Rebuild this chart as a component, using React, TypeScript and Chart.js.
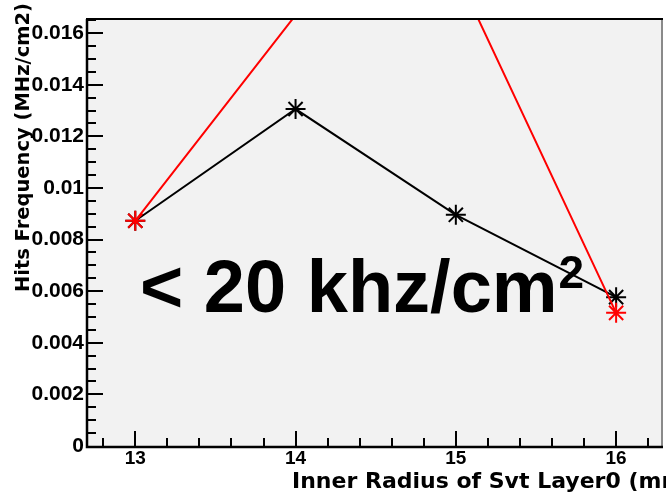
import React, { useEffect, useRef } from "react";
import { Chart, registerables } from "chart.js";

Chart.register(...registerables);

// ---- data ----
const radii = [13, 14, 15, 16];
const hitsBlack = [0.00873, 0.01306, 0.00896, 0.00577];
const hitsRed = [0.00873, 0.0167, 0.0184, 0.00516];

const xTickValues = [13, 14, 15, 16];
const yTickValues = [0, 0.002, 0.004, 0.006, 0.008, 0.01, 0.012, 0.014, 0.016];

const xTitle = "Inner Radius of Svt Layer0 (mm)";
const yTitle = "Hits Frequency (MHz/cm2)";
const noteMain = "< 20 khz/cm";
const noteSup = "2";

// ---- axis ranges / style constants ----
const X_MIN = 12.705;
const X_MAX = 16.28;
const Y_MIN = 0;
const Y_MAX = 0.01655;
const X_MINOR = 0.2;
const Y_MINOR = 0.0005;
const NOTE_X = 13.03;
const NOTE_Y = 0.0052;

const HELV = "'Liberation Sans', Arial, sans-serif";
const DEJA = "'DejaVu Sans', sans-serif";

const rootPlugin = {
  id: "rootFrame",
  beforeDraw(chart: any) {
    const { ctx, chartArea: a } = chart;
    ctx.save();
    ctx.fillStyle = "#ffffff";
    ctx.fillRect(0, 0, chart.width, chart.height);
    ctx.fillStyle = "#f2f2f2";
    ctx.fillRect(a.left, a.top, a.right - a.left, a.bottom - a.top);
    ctx.restore();
  },
  afterDatasetsDraw(chart: any) {
    const { ctx } = chart;
    const xs = chart.scales.x;
    const ys = chart.scales.y;
    ctx.save();
    ctx.fillStyle = "#000";
    ctx.textBaseline = "alphabetic";
    ctx.textAlign = "left";
    ctx.font = `bold 74px ${HELV}`;
    const px = xs.getPixelForValue(NOTE_X);
    const py = ys.getPixelForValue(NOTE_Y);
    ctx.fillText(noteMain, px, py);
    const w = ctx.measureText(noteMain).width;
    ctx.font = `bold 46px ${HELV}`;
    ctx.fillText(noteSup, px + w + 1, py - 24);
    ctx.restore();
  },
  afterDraw(chart: any) {
    const { ctx, chartArea: a } = chart;
    const xs = chart.scales.x;
    const ys = chart.scales.y;
    ctx.save();
    // ticks
    ctx.strokeStyle = "#000";
    ctx.lineWidth = 2;
    ctx.beginPath();
    const nx = Math.round((X_MAX - 12.6) / X_MINOR) + 2;
    for (let i = 0; i < nx; i++) {
      const v = 12.6 + i * X_MINOR;
      if (v < X_MIN || v > X_MAX) continue;
      const isMajor = Math.abs(v - Math.round(v)) < 1e-6;
      const p = Math.round(xs.getPixelForValue(v));
      ctx.moveTo(p, a.bottom);
      ctx.lineTo(p, a.bottom - (isMajor ? 15 : 8));
    }
    const ny = Math.round((Y_MAX - Y_MIN) / Y_MINOR) + 1;
    for (let i = 1; i < ny; i++) {
      const v = Y_MIN + i * Y_MINOR;
      if (v > Y_MAX) continue;
      const isMajor = i % 4 === 0;
      const p = Math.round(ys.getPixelForValue(v));
      ctx.moveTo(a.left, p);
      ctx.lineTo(a.left + (isMajor ? 15 : 8), p);
    }
    ctx.stroke();
    // frame
    ctx.strokeStyle = "#8a8a8a";
    ctx.lineWidth = 2;
    ctx.beginPath();
    ctx.moveTo(a.right + 1, a.top);
    ctx.lineTo(a.right + 1, a.bottom);
    ctx.stroke();
    ctx.strokeStyle = "#000";
    ctx.lineWidth = 2.5;
    ctx.beginPath();
    ctx.moveTo(a.left - 1, a.top);
    ctx.lineTo(a.left - 1, a.bottom + 1);
    ctx.lineTo(a.right + 2, a.bottom + 1);
    ctx.stroke();
    ctx.lineWidth = 2;
    ctx.beginPath();
    ctx.moveTo(a.left - 2, a.top);
    ctx.lineTo(a.right + 2, a.top);
    ctx.stroke();
    // axis titles
    ctx.fillStyle = "#000";
    ctx.font = `bold 22px ${DEJA}`;
    ctx.textAlign = "left";
    ctx.textBaseline = "alphabetic";
    ctx.fillText(xTitle, 292, 488);
    ctx.save();
    ctx.translate(29, 3);
    ctx.rotate(-Math.PI / 2);
    ctx.textAlign = "right";
    ctx.font = `bold 19.5px ${DEJA}`;
    ctx.fillText(yTitle, 0, 0);
    ctx.restore();
    ctx.restore();
  },
};

const radiusInRange = (c: any) => {
  const v = c.raw && typeof c.raw.y === "number" ? c.raw.y : 0;
  return v > Y_MAX || v < Y_MIN ? 0 : 10;
};

export default function App() {
  const ref = useRef<HTMLCanvasElement | null>(null);
  useEffect(() => {
    if (!ref.current) return;
    const chart = new Chart(ref.current, {
      type: "line",
      data: {
        datasets: [
          {
            label: "red",
            data: radii.map((x, i) => ({ x, y: hitsRed[i] })),
            borderColor: "#ff0000",
            borderWidth: 2,
            pointStyle: "star",
            pointRadius: radiusInRange,
            pointBorderColor: "#ff0000",
            pointBorderWidth: 2,
            pointBackgroundColor: "#ff0000",
            tension: 0,
            fill: false,
            clip: 0,
          },
          {
            label: "black",
            data: radii.map((x, i) => ({ x, y: hitsBlack[i] })),
            borderColor: "#000000",
            borderWidth: 2,
            pointStyle: "star",
            pointRadius: radiusInRange,
            pointBorderColor: "#000000",
            pointBorderWidth: 2,
            pointBackgroundColor: "#000000",
            tension: 0,
            fill: false,
            clip: 0,
          },
        ],
      },
      options: {
        responsive: false,
        animation: false,
        devicePixelRatio: 1,
        layout: { autoPadding: false, padding: { top: 19, right: 5, left: 0, bottom: 0 } },
        plugins: { legend: { display: false }, tooltip: { enabled: false } },
        scales: {
          x: {
            type: "linear",
            min: X_MIN,
            max: X_MAX,
            afterBuildTicks: (s: any) => {
              s.ticks = xTickValues.map((v) => ({ value: v }));
            },
            afterFit: (s: any) => {
              s.height = 52;
              s.paddingLeft = 0;
              s.paddingRight = 0;
            },
            grid: { display: false, drawTicks: false },
            border: { display: false },
            ticks: {
              color: "#000",
              font: { family: HELV, weight: "bold", size: 19 },
              padding: 1,
              maxRotation: 0,
              autoSkip: false,
              callback: (v: any) => String(v),
            },
          },
          y: {
            type: "linear",
            min: Y_MIN,
            max: Y_MAX,
            afterBuildTicks: (s: any) => {
              s.ticks = yTickValues.map((v) => ({ value: v }));
            },
            afterFit: (s: any) => {
              s.width = 88;
              s.paddingTop = 0;
              s.paddingBottom = 0;
            },
            grid: { display: false, drawTicks: false },
            border: { display: false },
            ticks: {
              color: "#000",
              font: { family: HELV, weight: "bold", size: 21 },
              padding: 4,
              autoSkip: false,
              callback: (v: any) => String(Number(Number(v).toFixed(4))),
            },
          },
        },
      },
      plugins: [rootPlugin],
    } as any);
    return () => chart.destroy();
  }, []);
  return (
    <div style={{ position: "fixed", left: 0, top: 0, width: 666, height: 498, background: "#fff" }}>
      <canvas ref={ref} width={666} height={498} style={{ display: "block", width: 666, height: 498 }} />
    </div>
  );
}
